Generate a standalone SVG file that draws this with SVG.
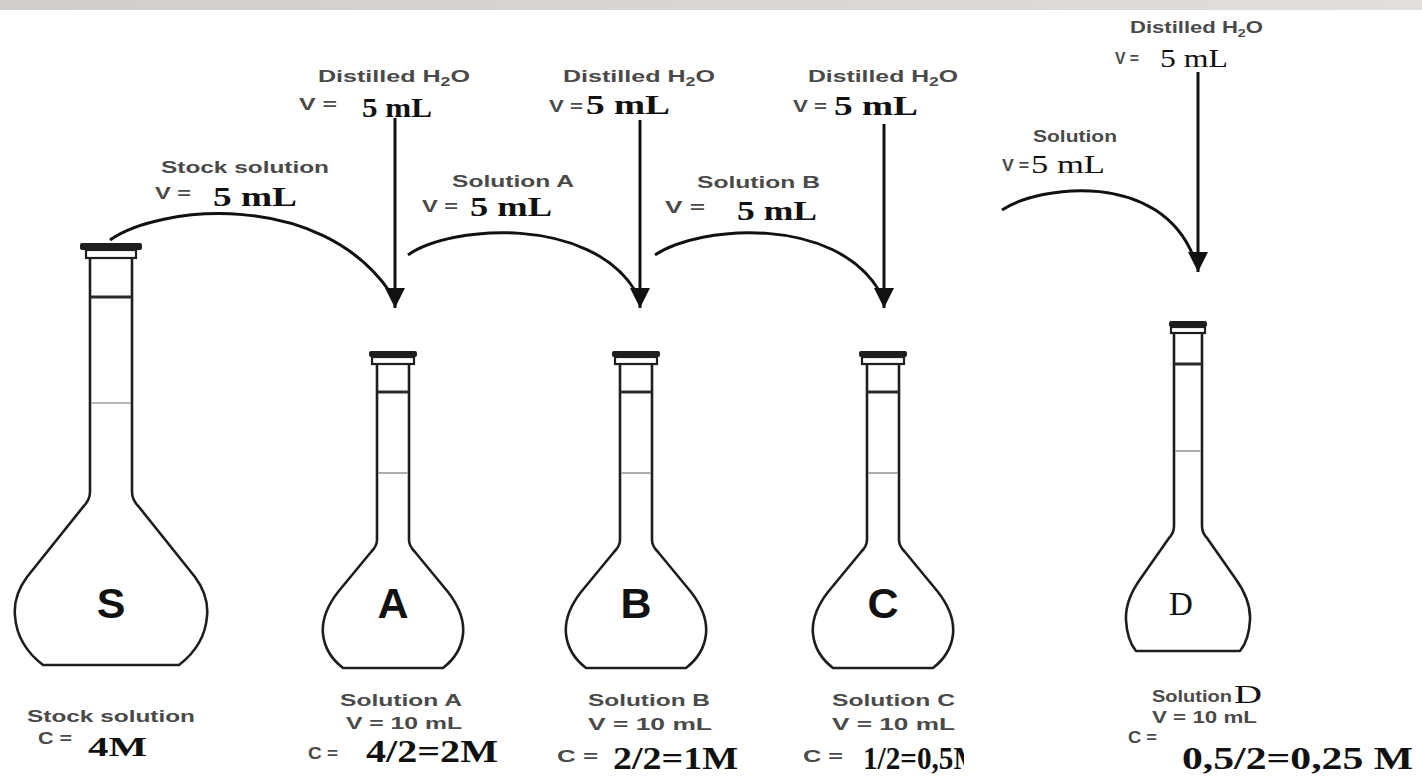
<svg xmlns="http://www.w3.org/2000/svg" xmlns:xlink="http://www.w3.org/1999/xlink" width="1422" height="777" viewBox="0 0 1422 777">
  <style>
    .glass { fill: #fff; stroke: #1e1e1e; stroke-width: 2.6; stroke-linejoin: round; }
    .lid { fill: #1e1e1e; }
    .lip { fill: #fff; stroke: #1e1e1e; stroke-width: 2.2; }
    .band { stroke: #2a2a2a; stroke-width: 3; }
    .mark { stroke: #9a9a9a; stroke-width: 1.6; }
    .lbl { font-family: "Liberation Sans", Arial, sans-serif; font-weight: bold; font-size: 17px; fill: #4a4a4a; }
    .sm { font-family: "Liberation Sans", Arial, sans-serif; font-weight: bold; font-size: 16px; fill: #4a4a4a; }
    .val { font-family: "Liberation Serif", "Times New Roman", serif; font-weight: bold; font-size: 27px; fill: #111; }
    .big { font-family: "Liberation Serif", "Times New Roman", serif; font-weight: bold; font-size: 32px; fill: #111; }
    .tag { font-family: "Liberation Sans", Arial, sans-serif; font-weight: bold; font-size: 43px; fill: #111; text-anchor: middle; }
    .flow { fill: none; stroke: #111; stroke-width: 3; }
  </style>
  <defs>
    <linearGradient id="barFill" x1="0" y1="0" x2="1" y2="0">
      <stop offset="0" stop-color="#d2cdc8"/>
      <stop offset="1" stop-color="#e2ded9"/>
    </linearGradient>
    <marker id="head" markerUnits="userSpaceOnUse" markerWidth="24" markerHeight="22" refX="20" refY="10" orient="auto">
      <path d="M0,0 L20,10 L0,20 Z" fill="#111"/>
    </marker>
    <!-- 10 mL volumetric flask, drawn around x = 0 -->
    <g id="flask10">
      <path class="glass" d="M -16 364 L -16 540 Q -16 546 -22 552 L -55 592 Q -72 614 -70 634 Q -68 654 -50 668 L 50 668 Q 68 654 70 634 Q 72 614 55 592 L 22 552 Q 16 546 16 540 L 16 364"/>
      <rect class="lip" x="-21" y="357" width="42" height="7"/>
      <rect class="lid" x="-24" y="351" width="48" height="6" rx="2"/>
      <line class="band" x1="-16" y1="392" x2="16" y2="392"/>
      <line class="mark" x1="-15" y1="473" x2="15" y2="473"/>
    </g>
  </defs>

  <rect width="1422" height="777" fill="#fff"/>
  <rect width="1422" height="10" fill="url(#barFill)"/>

  <!-- stock flask -->
  <g id="flask-s" transform="translate(111,0)">
    <path class="glass" d="M -21 258 L -21 492 Q -21 500 -28 507 L -84 577 Q -98 596 -96 616 Q -94 645 -68 665 L 68 665 Q 94 645 96 616 Q 98 596 84 577 L 28 507 Q 21 500 21 492 L 21 258"/>
    <rect class="lip" x="-25" y="250" width="50" height="8"/>
    <rect class="lid" x="-31" y="243" width="62" height="7" rx="2"/>
    <line class="band" x1="-21" y1="297" x2="21" y2="297"/>
    <line class="mark" x1="-20" y1="403" x2="20" y2="403"/>
    <text class="tag" x="0" y="618">S</text>
  </g>

  <g id="flask-a">
    <use href="#flask10" x="393"/>
    <text class="tag" x="393" y="618">A</text>
  </g>

  <g id="flask-b">
    <use href="#flask10" x="636"/>
    <text class="tag" x="636" y="618">B</text>
  </g>

  <g id="flask-c">
    <use href="#flask10" x="883"/>
    <text class="tag" x="883" y="618">C</text>
  </g>

  <g id="flask-d" transform="translate(1188,0)">
    <path class="glass" d="M -14 333 L -14 526 Q -14 533 -19 538 L -47 578 Q -63 600 -62 620 Q -61 640 -52 651 L 52 651 Q 61 640 62 620 Q 63 600 47 578 L 19 538 Q 14 533 14 526 L 14 333"/>
    <rect class="lip" x="-17" y="327" width="34" height="6"/>
    <rect class="lid" x="-19" y="321" width="38" height="6" rx="2"/>
    <line class="band" x1="-14" y1="364" x2="14" y2="364"/>
    <line class="mark" x1="-13" y1="451" x2="13" y2="451"/>
    <text x="-7" y="615" font-family="Liberation Serif, serif" font-size="33" fill="#111" text-anchor="middle">D</text>
  </g>

  <!-- transfers and water additions -->
  <g id="connectors">
    <path class="flow" d="M 110 240 C 160 205 320 190 390 292"/>
    <path class="flow" d="M 408 255 C 450 225 590 215 636 292"/>
    <path class="flow" d="M 655 255 C 700 225 835 215 880 292"/>
    <path class="flow" d="M 1002 210 C 1040 185 1160 170 1194 258"/>
    <line class="flow" x1="395" y1="118" x2="395" y2="308" marker-end="url(#head)"/>
    <line class="flow" x1="640" y1="120" x2="640" y2="308" marker-end="url(#head)"/>
    <line class="flow" x1="884" y1="124" x2="884" y2="308" marker-end="url(#head)"/>
    <line class="flow" x1="1198" y1="72" x2="1198" y2="272" marker-end="url(#head)"/>
  </g>

  <!-- transfer labels -->
  <g id="labels-top">
    <text class="lbl" x="318" y="82" textLength="152" lengthAdjust="spacingAndGlyphs">Distilled H<tspan font-size="12" dy="4">2</tspan><tspan dy="-4">O</tspan></text>
    <text class="sm" x="299" y="110" textLength="38" lengthAdjust="spacingAndGlyphs">V =</text>
    <text class="val" x="362" y="117" textLength="70" lengthAdjust="spacingAndGlyphs">5 mL</text>

    <text class="lbl" x="563" y="82" textLength="152" lengthAdjust="spacingAndGlyphs">Distilled H<tspan font-size="12" dy="4">2</tspan><tspan dy="-4">O</tspan></text>
    <text class="sm" x="549" y="112" textLength="34" lengthAdjust="spacingAndGlyphs">V =</text>
    <text class="val" x="586" y="114" textLength="84" lengthAdjust="spacingAndGlyphs">5 mL</text>

    <text class="lbl" x="808" y="82" textLength="150" lengthAdjust="spacingAndGlyphs">Distilled H<tspan font-size="12" dy="4">2</tspan><tspan dy="-4">O</tspan></text>
    <text class="sm" x="793" y="112" textLength="34" lengthAdjust="spacingAndGlyphs">V =</text>
    <text class="val" x="834" y="115" textLength="84" lengthAdjust="spacingAndGlyphs">5 mL</text>

    <text class="lbl" x="1130" y="33" font-size="15" textLength="133" lengthAdjust="spacingAndGlyphs">Distilled H<tspan font-size="11" dy="4">2</tspan><tspan dy="-4">O</tspan></text>
    <text class="sm" x="1115" y="64" textLength="24" lengthAdjust="spacingAndGlyphs">V =</text>
    <text x="1160" y="67" font-family="Liberation Serif, serif" font-size="25" fill="#111" textLength="68" lengthAdjust="spacingAndGlyphs">5 mL</text>

    <text class="lbl" x="161" y="173" textLength="168" lengthAdjust="spacingAndGlyphs">Stock solution</text>
    <text class="sm" x="155" y="199" textLength="36" lengthAdjust="spacingAndGlyphs">V =</text>
    <text class="val" x="213" y="206" textLength="84" lengthAdjust="spacingAndGlyphs">5 mL</text>

    <text class="lbl" x="452" y="187" textLength="122" lengthAdjust="spacingAndGlyphs">Solution A</text>
    <text class="sm" x="422" y="212" textLength="36" lengthAdjust="spacingAndGlyphs">V =</text>
    <text class="val" x="470" y="216" textLength="82" lengthAdjust="spacingAndGlyphs">5 mL</text>

    <text class="lbl" x="697" y="188" textLength="123" lengthAdjust="spacingAndGlyphs">Solution B</text>
    <text class="sm" x="665" y="213" textLength="40" lengthAdjust="spacingAndGlyphs">V =</text>
    <text class="val" x="737" y="220" textLength="80" lengthAdjust="spacingAndGlyphs">5 mL</text>

    <text class="lbl" x="1033" y="142" font-size="15" textLength="84" lengthAdjust="spacingAndGlyphs">Solution</text>
    <text class="sm" x="1002" y="171" textLength="27" lengthAdjust="spacingAndGlyphs">V =</text>
    <text x="1031" y="173" font-family="Liberation Serif, serif" font-size="25" fill="#111" textLength="74" lengthAdjust="spacingAndGlyphs">5 mL</text>
  </g>

  <!-- concentration labels -->
  <g id="labels-bottom">
    <text class="lbl" x="27" y="722" textLength="168" lengthAdjust="spacingAndGlyphs">Stock solution</text>
    <text class="sm" x="38" y="744" textLength="34" lengthAdjust="spacingAndGlyphs">C =</text>
    <text class="val" x="88" y="756" font-size="30" textLength="59" lengthAdjust="spacingAndGlyphs">4M</text>

    <text class="lbl" x="340" y="706" textLength="122" lengthAdjust="spacingAndGlyphs">Solution A</text>
    <text class="sm" x="346" y="729" textLength="116" lengthAdjust="spacingAndGlyphs">V = 10 mL</text>
    <text class="sm" x="308" y="759" textLength="30" lengthAdjust="spacingAndGlyphs">C =</text>
    <text class="big" x="366" y="762" textLength="132" lengthAdjust="spacingAndGlyphs">4/2=2M</text>

    <text class="lbl" x="588" y="706" textLength="122" lengthAdjust="spacingAndGlyphs">Solution B</text>
    <text class="sm" x="588" y="730" textLength="124" lengthAdjust="spacingAndGlyphs">V = 10 mL</text>
    <text class="sm" x="557" y="762" textLength="41" lengthAdjust="spacingAndGlyphs">C =</text>
    <text class="big" x="613" y="769" textLength="125" lengthAdjust="spacingAndGlyphs">2/2=1M</text>

    <text class="lbl" x="832" y="706" textLength="123" lengthAdjust="spacingAndGlyphs">Solution C</text>
    <text class="sm" x="832" y="730" textLength="123" lengthAdjust="spacingAndGlyphs">V = 10 mL</text>
    <text class="sm" x="803" y="762" textLength="40" lengthAdjust="spacingAndGlyphs">C =</text>
    <clipPath id="cutC"><rect x="850" y="730" width="114" height="47"/></clipPath>
    <text class="big" x="863" y="769" textLength="118" lengthAdjust="spacingAndGlyphs" clip-path="url(#cutC)">1/2=0,5M</text>

    <text class="sm" x="1152" y="702" textLength="80" lengthAdjust="spacingAndGlyphs">Solution</text>
    <text x="1234" y="703" font-family="Liberation Serif, serif" font-size="26" fill="#111" textLength="28" lengthAdjust="spacingAndGlyphs">D</text>
    <text class="sm" x="1152" y="723" font-size="14" textLength="105" lengthAdjust="spacingAndGlyphs">V = 10 mL</text>
    <text class="sm" x="1128" y="743" font-size="14" textLength="29" lengthAdjust="spacingAndGlyphs">C =</text>
    <text class="big" x="1182" y="769" font-size="36" textLength="231" lengthAdjust="spacingAndGlyphs">0,5/2=0,25 M</text>
  </g>
</svg>
